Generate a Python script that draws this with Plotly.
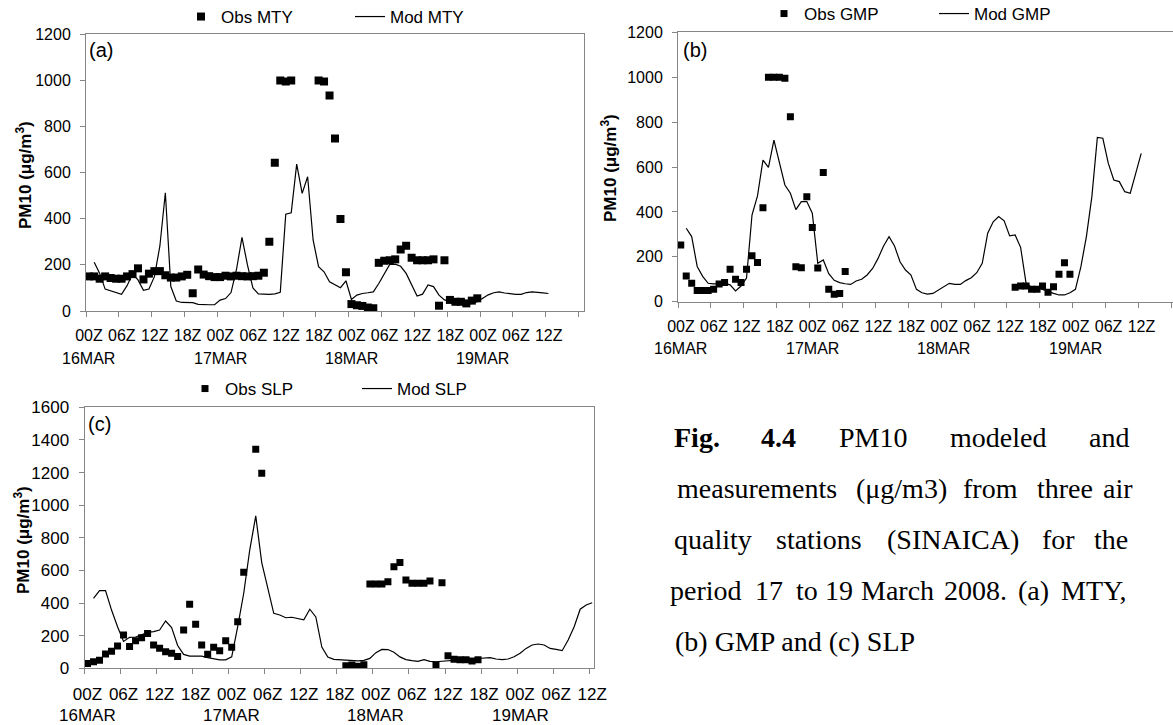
import plotly.graph_objects as go

# ---------------------------------------------------------------------------
# Hourly PM10 series (µg/m3), hour 0 = 00Z 16 MAR 2008. None = no value.
# ---------------------------------------------------------------------------
TIME_LABELS = ["00Z", "06Z", "12Z", "18Z"]
DAY_LABELS = ["16MAR", "17MAR", "18MAR", "19MAR"]

MTY_OBS = [150, 150, 140, 150, 143, 140, 140, 150, 160, 185,
           137, 162, 173, 173, 155, 145, 145, 150, 157, 77,
           180, 158, 151, 147, 147, 153, 150, 153, 151, 150,
           151, 153, 166, 300, 643, 1000, 995, 1000, None, None,
           None, None, 1000, 995, 935, 748, 399, 168, 30, 25,
           22, 15, 12, 209, 218, 220, 224, 267, 283, 231,
           220, 220, 220, 224, 23, 220, 48, 40, 40, 33,
           45, 55]

MTY_MOD = [None, 211, 163, 95, 87, 78, 72, 110, 160, 135,
           90, 95, 149, 282, 513, 106, 43, 37, 36, 36,
           29, 27, 27, 27, 47, 54, 80, 180, 319, 200,
           100, 74, 72, 72, 74, 81, 420, 426, 637, 510,
           582, 308, 192, 170, 127, 113, 101, 131, 50, 69,
           76, 79, 83, 119, 163, 202, 203, 194, 163, 113,
           65, 73, 113, 106, 69, 48, 40, 35, 30, 29,
           33, 40, 55, 70, 79, 83, 78, 74, 72, 72,
           80, 83, 82, 79, 76]

GMP_OBS = [253, 114, 82, 50, 50, 50, 55, 79, 85, 145,
           100, 85, 145, 205, 175, 419, 1000, 1000, 1000, 995,
           824, 156, 151, 468, 331, 150, 576, 55, 33, 37,
           134, None, None, None, None, None, None, None, None, None,
           None, None, None, None, None, None, None, None, None, None,
           None, None, None, None, None, None, None, None, None, None,
           None, 64, 70, 70, 55, 55, 70, 42, 67, 122,
           174, 122]

GMP_MOD = [None, 327, 290, 157, 113, 82, 79, 80, 82, 75,
           48, 70, 105, 386, 471, 631, 598, 720, 616, 520,
           483, 410, 446, 446, 394, 171, 186, 125, 95, 85,
           80, 77, 92, 100, 119, 148, 193, 248, 290, 248,
           178, 141, 119, 55, 40, 34, 37, 52, 67, 82,
           77, 77, 94, 107, 129, 171, 305, 356, 379, 360,
           293, 297, 242, 82, 64, 64, 55, 45, 37, 30,
           30, 40, 55, 156, 290, 468, 732, 728, 616, 542,
           535, 490, 483, 572, 661]

SLP_OBS = [30, 40, 50, 88, 105, 137, 204, 133, 169, 188,
           214, 143, 123, 102, 92, 72, 235, 392, 270, 143,
           86, 129, 108, 169, 129, 286, 589, None, 1343, 1195,
           None, None, None, None, None, None, None, None, None, None,
           None, None, None, 15, 20, 12, 22, 517, 517, 517,
           530, 623, 648, 541, 521, 521, 521, 535, 20, 525,
           77, 55, 52, 52, 45, 52]

SLP_MOD = [None, 429, 476, 476, 357, 255, 165, 190, 192, 205,
           220, 225, 235, 290, 250, 140, 85, 75, 75, 75,
           65, 57, 52, 52, 70, 255, 460, 725, 934, 648,
           500, 337, 327, 310, 313, 305, 297, 362, 315, 130,
           69, 55, 52, 50, 49, 45, 49, 61, 96, 116,
           115, 98, 70, 53, 47, 43, 53, 43, 40, 43,
           47, 53, 52, 57, 58, 60, 62, 65, 57, 53,
           57, 71, 92, 122, 143, 149, 143, 122, 116, 108,
           174, 255, 362, 388, 402]

STATIONS = [
    # (code, obs, model, axis suffix, marker size)
    ("MTY", MTY_OBS, MTY_MOD, "", 8),
    ("GMP", GMP_OBS, GMP_MOD, "2", 7),
    ("SLP", SLP_OBS, SLP_MOD, "3", 7),
]

# ---------------------------------------------------------------------------
# Page geometry (pixels) and helpers
# ---------------------------------------------------------------------------
W, H = 1173, 725
SANS = "Liberation Sans, Arial, sans-serif"
SERIF = "Liberation Serif, Times New Roman, serif"
FRAME = "#868686"


def px(x):
    return x / W


def py(y):
    return 1 - y / H


# panel boxes: left, right, top, bottom (px), x range end (h), y max, font
PANELS = {
    "": dict(l=86, r=584, t=34.3, b=311, xmax=91.0, ymax=1200, fs=16,
             end_tick=90, mirror_y=True),
    "2": dict(l=678, r=1173, t=32.3, b=301.7, xmax=90.3, ymax=1200, fs=16,
              end_tick=90, mirror_y=False),
    "3": dict(l=84.5, r=594, t=407.3, b=668.3, xmax=84.8, ymax=1600, fs=17,
              end_tick=None, mirror_y=True),
}

fig = go.Figure()

for code, obs, mod, sfx, msize in STATIONS:
    hours_obs = [h + 0.5 for h in range(len(obs))]   # values sit mid-category
    hours_mod = [h + 0.5 for h in range(len(mod))]
    leg = "legend" + sfx
    fig.add_trace(go.Scatter(
        x=hours_obs, y=obs, mode="markers", name="Obs " + code,
        marker=dict(symbol="square", size=msize, color="black"),
        xaxis="x" + sfx, yaxis="y" + sfx, legend=leg, showlegend=True))
    fig.add_trace(go.Scatter(
        x=hours_mod, y=mod, mode="lines", name="Mod " + code,
        line=dict(color="black", width=1.2),
        xaxis="x" + sfx, yaxis="y" + sfx, legend=leg, showlegend=True,
        connectgaps=False))

layout = dict(
    width=W, height=H, autosize=False,
    margin=dict(l=0, r=0, t=0, b=0, autoexpand=False),
    paper_bgcolor="white", plot_bgcolor="white",
    font=dict(family=SANS, color="black"),
    annotations=[],
)

for sfx, p in PANELS.items():
    ticks = list(range(0, 85, 6))
    labels = [TIME_LABELS[k % 4] for k in range(len(ticks))]
    cat_px = (p["r"] - p["l"]) / p["xmax"]
    xax = dict(
        domain=[px(p["l"]), px(p["r"])], anchor="y" + sfx,
        range=[0, p["xmax"]], tickmode="array", tickvals=ticks, ticktext=labels,
        ticks="outside", ticklen=5, tickcolor=FRAME, tickwidth=1,
        ticklabelshift=int(round(cat_px * 0.5)), ticklabelstandoff=5,
        tickfont=dict(size=p["fs"], family=SANS, color="black"),
        showline=True, linecolor=FRAME, linewidth=1, mirror=True,
        showgrid=False, zeroline=False, fixedrange=True)
    if p["end_tick"] is not None:
        # closing tick mark at the end of the last 6-h block (no label)
        xax["minor"] = dict(tickmode="array", tickvals=[p["end_tick"]],
                            ticks="outside", ticklen=5, tickcolor=FRAME,
                            tickwidth=1, showgrid=False)
    layout["xaxis" + sfx] = xax
    layout["yaxis" + sfx] = dict(
        domain=[py(p["b"]), py(p["t"])], anchor="x" + sfx,
        range=[0, p["ymax"]], dtick=200, tick0=0,
        ticks="outside", ticklen=5, tickcolor=FRAME, tickwidth=1,
        ticklabelstandoff=6,
        tickfont=dict(size=p["fs"], family=SANS, color="black"),
        showline=True, linecolor=FRAME, linewidth=1, mirror=p["mirror_y"],
        showgrid=False, zeroline=False, fixedrange=True)
    # day names under the 00Z labels
    for d, day in enumerate(DAY_LABELS):
        hx = 24 * d + 0.5
        if hx > p["xmax"]:
            continue
        layout["annotations"].append(dict(
            text=day, x=hx, y=py(p["b"] + 47), xref="x" + sfx, yref="paper",
            xanchor="center", yanchor="middle", showarrow=False,
            font=dict(size=p["fs"], family=SANS, color="black")))

# y-axis titles
for xc, yc in [(24, 175), (609, 168), (22, 540)]:
    layout["annotations"].append(dict(
        text="<b>PM10 (μg/m<sup>3</sup>)</b>", x=px(xc), y=py(yc),
        xref="paper", yref="paper", textangle=-90, showarrow=False,
        xanchor="center", yanchor="middle",
        font=dict(size=17, family=SANS, color="black")))

# panel letters
for txt, xl, yc in [("(a)", 87, 50), ("(b)", 681, 50), ("(c)", 86, 424)]:
    layout["annotations"].append(dict(
        text=txt, x=px(xl), y=py(yc), xref="paper", yref="paper",
        xanchor="left", yanchor="middle", showarrow=False,
        font=dict(size=20, family=SANS, color="black")))

# legends above each panel
for name, xl, yc, ew in [("legend", 181, 17, 124), ("legend2", 764, 14, 125),
                         ("legend3", 185, 389, 127)]:
    layout[name] = dict(
        orientation="h", x=px(xl), y=py(yc), xanchor="left", yanchor="middle",
        xref="paper", yref="paper", bgcolor="rgba(0,0,0,0)", borderwidth=0,
        entrywidth=ew, entrywidthmode="pixels", traceorder="normal",
        font=dict(size=17, family=SANS, color="black"))

# figure caption (justified block, placed word by word)
CAPTION = [
    (437, [("<b>Fig.</b>", 696.5), ("<b>4.4</b>", 778.5), ("PM10", 873),
           ("modeled", 998), ("and", 1109)]),
    (488, [("measurements", 756.5), ("(μg/m3)", 901.5), ("from", 990),
           ("three", 1065), ("air", 1117.5)]),
    (539.5, [("quality", 713), ("stations", 819), ("(SINAICA)", 952.5),
             ("for", 1058.5), ("the", 1111)]),
    (590.5, [("period", 705.5), ("17", 769), ("to", 806.5), ("19", 839),
             ("March", 897.5), ("2008.", 975), ("(a)", 1033.5),
             ("MTY,", 1093.5)]),
]
for yc, words in CAPTION:
    for w, xc in words:
        layout["annotations"].append(dict(
            text=w, x=px(xc), y=py(yc), xref="paper", yref="paper",
            xanchor="center", yanchor="middle", showarrow=False,
            font=dict(size=28, family=SERIF, color="black")))
layout["annotations"].append(dict(
    text="(b) GMP and (c) SLP", x=px(673), y=py(641.7), xref="paper",
    yref="paper", xanchor="left", yanchor="middle", showarrow=False,
    font=dict(size=28, family=SERIF, color="black")))

fig.update_layout(**layout)
fig.write_html("out.html")
